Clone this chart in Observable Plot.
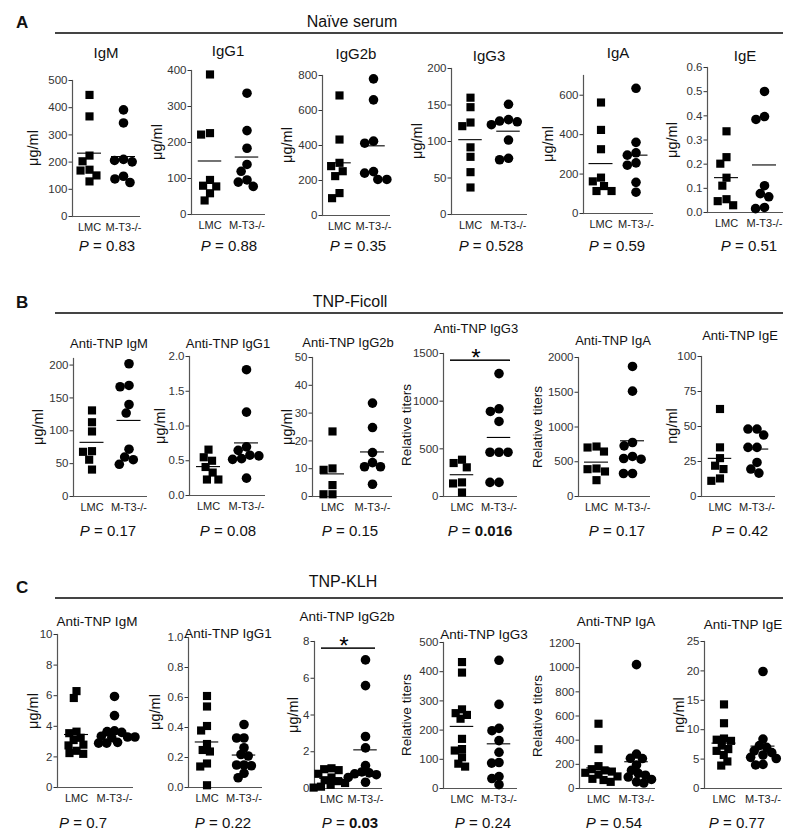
<!DOCTYPE html>
<html>
<head>
<meta charset="utf-8">
<script src="https://cdn.jsdelivr.net/npm/d3@7"></script>
<script src="https://cdn.jsdelivr.net/npm/@observablehq/plot@0.6"></script>
<style>
  html, body { margin: 0; padding: 0; background: #fff; }
  #root { position: relative; width: 800px; height: 840px; background: #fff;
          font-family: "Liberation Sans", Arial, Helvetica, sans-serif; color: #111; overflow: hidden; }
  #root svg { position: absolute; overflow: visible; }
</style>
</head>
<body>
<div id="root"></div>
<script>
// ---------------- DATA ----------------
const groups = ["LMC", "M-T3-/-"];
const sectionLetters = ["A", "B", "C"];
const sectionTitles = ["Naïve serum", "TNP-Ficoll", "TNP-KLH"];

const naiveTitles = ["IgM", "IgG1", "IgG2b", "IgG3", "IgA", "IgE"];
const tnpTitles = ["Anti-TNP IgM", "Anti-TNP IgG1", "Anti-TNP IgG2b", "Anti-TNP IgG3", "Anti-TNP IgA", "Anti-TNP IgE"];
const naiveUnits = ["μg/ml", "μg/ml", "μg/ml", "μg/ml", "μg/ml", "μg/ml"];
const tnpUnits = ["μg/ml", "μg/ml", "μg/ml", "Relative titers", "Relative titers", "ng/ml"];

const naiveP = ["0.83", "0.88", "0.35", "0.528", "0.59", "0.51"];
const ficollP = ["0.17", "0.08", "0.15", "0.016", "0.17", "0.42"];
const klhP = ["0.7", "0.22", "0.03", "0.24", "0.54", "0.77"];

// y-axis domains and tick labels
const naiveMax = [500, 400, 800, 200, 700, 0.6];
const naiveTicks = [[0,100,200,300,400,500],[0,100,200,300,400],[0,200,400,600,800],[0,50,100,150,200],[0,200,400,600],[0,0.1,0.2,0.3,0.4,0.5,0.6]];
const ficollMax = [210, 2, 50, 1500, 2000, 100];
const ficollTicks = [[0,50,100,150,200],[0,0.5,1,1.5,2],[0,10,20,30,40,50],[0,500,1000,1500],[0,500,1000,1500,2000],[0,25,50,75,100]];
const klhMax = [10, 1, 8, 500, 1200, 25];
const klhTicks = [[0,2,4,6,8,10],[0,0.2,0.4,0.6,0.8,1],[0,2,4,6,8],[0,100,200,300,400,500],[0,200,400,600,800,1000,1200],[0,5,10,15,20,25]];
const naiveDecimals = [0,0,0,0,0,1];
const ficollDecimals = [0,1,0,0,0,0];
const klhDecimals = [0,1,0,0,0,0];

// significance bars (value level of the bar), null = none
const ficollSig = [null, null, null, 1430, null, null];
const klhSig = [null, null, 7.64, null, null, null];

// Naïve serum
const naiveIgM_LMC  = [447, 368, 224, 203, 172, 169, 151, 129];
const naiveIgM_KO   = [392, 344, 210, 206, 201, 148, 138, 125];
const naiveIgG1_LMC = [389, 226, 222, 96, 80, 78, 59, 39];
const naiveIgG1_KO  = [337, 233, 184, 139, 120, 96, 90, 78];
const naiveIgG2b_LMC= [686, 434, 301, 282, 253, 225, 128, 99];
const naiveIgG2b_KO = [781, 661, 425, 413, 251, 242, 206, 206];
const naiveIgG3_LMC = [160, 147, 126, 121, 92, 79, 58, 37];
const naiveIgG3_KO  = [151, 130, 128, 127, 123, 102, 77, 75];
const naiveIgA_LMC  = [563, 424, 326, 182, 163, 139, 114, 114];
const naiveIgA_KO   = [635, 361, 308, 296, 257, 245, 158, 108];
const naiveIgE_LMC  = [0.336, 0.229, 0.202, 0.144, 0.111, 0.055, 0.047, 0.030];
const naiveIgE_KO   = [0.501, 0.397, 0.385, 0.111, 0.078, 0.065, 0.021, 0.016];

// TNP-Ficoll
const ficollIgM_LMC  = [131, 113, 99, 69, 68, 56, 41];
const ficollIgM_KO   = [202, 169, 167, 140, 127, 72, 60, 56, 49];
const ficollIgG1_LMC = [0.66, 0.55, 0.50, 0.41, 0.33, 0.23, 0.23];
const ficollIgG1_KO  = [1.81, 1.20, 0.70, 0.65, 0.58, 0.57, 0.53, 0.52, 0.25];
const ficollIgG2b_LMC= [23.4, 10.1, 9.6, 4.1, 0.8, 0.8];
const ficollIgG2b_KO = [33.6, 24.8, 15.8, 12.2, 10.7, 10.7, 4.4];
const ficollIgG3_LMC = [386, 351, 306, 148, 137, 42];
const ficollIgG3_KO  = [1289, 920, 892, 787, 464, 464, 464, 148, 148];
const ficollIgA_LMC  = [719, 705, 647, 403, 393, 360, 235];
const ficollIgA_KO   = [1871, 1516, 777, 729, 576, 547, 537, 331, 331];
const ficollIgE_LMC  = [62.5, 35.1, 27.4, 22.0, 19.6, 12.9, 11.2];
const ficollIgE_KO   = [48.2, 48.2, 43.9, 35.1, 35.1, 24.3, 19.6, 16.7];

// TNP-KLH
const klhIgM_LMC  = [6.3, 5.85, 3.65, 3.55, 3.25, 3.1, 2.8, 2.75, 2.4, 2.25, 2.2];
const klhIgM_KO   = [5.95, 4.7, 3.7, 3.65, 3.6, 3.35, 3.3, 3.3, 3.25, 2.95, 2.9, 2.9];
const klhIgG1_LMC = [0.61, 0.54, 0.41, 0.38, 0.29, 0.25, 0.24, 0.16, 0.14, 0.015];
const klhIgG1_KO  = [0.42, 0.33, 0.33, 0.265, 0.22, 0.21, 0.15, 0.15, 0.145, 0.095, 0.065];
const klhIgG2b_LMC= [1.1, 1.05, 1.0, 0.8, 0.6, 0.45, 0.4, 0.3, 0.2, 0.1, 0.05];
const klhIgG2b_KO = [7.0, 5.6, 2.83, 2.21, 1.25, 0.9, 0.85, 0.8, 0.75, 0.6, 0.34];
const klhIgG3_LMC = [433, 397, 271, 258, 252, 239, 170, 135, 130, 107, 85, 75];
const klhIgG3_KO  = [439, 288, 206, 198, 164, 124, 89, 87, 41, 34, 13];
const klhIgA_LMC  = [536, 325, 185, 160, 150, 140, 130, 115, 100, 80, 70, 55];
const klhIgA_KO   = [1025, 285, 250, 248, 195, 150, 125, 110, 95, 75, 55, 45];
const klhIgE_LMC  = [14.3, 11.1, 8.5, 8.3, 8.1, 7.3, 6.7, 6.4, 5.7, 4.6, 3.9];
const klhIgE_KO   = [19.9, 8.4, 7.3, 7.0, 6.4, 6.1, 5.7, 5.3, 5.1, 4.1, 4.0];

// ---------------- LAYOUT (pixels) ----------------
const layouts = [
  { letterY: 22, titleY: 22, lineY: 33, titleX: 352, titleSize: 15, dodgeR: 4.2,
    axisX: [72, 190, 321, 450, 583, 707], xEnd: [140, 265, 390, 527, 653, 783],
    yTop: [80, 70, 75, 68, 75, 67], yBot: [216, 214, 215, 214, 213, 212],
    tX: [106, 228, 356, 489, 618, 745],
    tY: [52, 50, 53, 55, 52, 55], pX: [107, 229, 358, 491, 617, 749], pY: 245,
    labOff: [39, 33, 34, 33, 35, 35] },
  { letterY: 302, titleY: 302, lineY: 313, titleX: 350, titleSize: 13, dodgeR: 4.2,
    axisX: [73, 189, 312, 442, 578, 700], xEnd: [147, 265, 392, 517, 650, 775],
    yTop: [358, 356, 357, 353, 357, 356], yBot: [496, 495, 496, 496, 496, 496],
    tX: [109, 228, 348, 476, 613, 740],
    tY: [343, 343, 342, 328, 340, 335], pX: [108, 228, 350, 480, 617, 740], pY: 530,
    labOff: [35, 29, 25, 35, 40, 28] },
  { letterY: 587, titleY: 582, lineY: 598, titleX: 343, titleSize: 13.5, dodgeR: 3.4,
    axisX: [57, 187, 313, 442, 578, 704], xEnd: [133, 262, 382, 517, 655, 782],
    yTop: [634, 637, 641, 642, 643, 641], yBot: [787, 787, 788, 788, 788, 788],
    tX: [97, 228, 347, 484, 616, 743],
    tY: [622, 634, 617, 635, 622, 625], pX: [83, 223, 350, 483, 614, 737], pY: 822,
    labOff: [24, 32, 20, 35, 40, 25] }
];

const rows = [
  { titles: naiveTitles, units: naiveUnits, p: naiveP, max: naiveMax, ticks: naiveTicks, dec: naiveDecimals, sig: [null,null,null,null,null,null],
    lmc: [naiveIgM_LMC, naiveIgG1_LMC, naiveIgG2b_LMC, naiveIgG3_LMC, naiveIgA_LMC, naiveIgE_LMC],
    ko:  [naiveIgM_KO, naiveIgG1_KO, naiveIgG2b_KO, naiveIgG3_KO, naiveIgA_KO, naiveIgE_KO] },
  { titles: tnpTitles, units: tnpUnits, p: ficollP, max: ficollMax, ticks: ficollTicks, dec: ficollDecimals, sig: ficollSig,
    lmc: [ficollIgM_LMC, ficollIgG1_LMC, ficollIgG2b_LMC, ficollIgG3_LMC, ficollIgA_LMC, ficollIgE_LMC],
    ko:  [ficollIgM_KO, ficollIgG1_KO, ficollIgG2b_KO, ficollIgG3_KO, ficollIgA_KO, ficollIgE_KO] },
  { titles: tnpTitles, units: tnpUnits, p: klhP, max: klhMax, ticks: klhTicks, dec: klhDecimals, sig: klhSig,
    lmc: [klhIgM_LMC, klhIgG1_LMC, klhIgG2b_LMC, klhIgG3_LMC, klhIgA_LMC, klhIgE_LMC],
    ko:  [klhIgM_KO, klhIgG1_KO, klhIgG2b_KO, klhIgG3_KO, klhIgA_KO, klhIgE_KO] }
];

// ---------------- RENDER ----------------
const root = document.getElementById("root");
const FONT = "'Liberation Sans', Arial, Helvetica, sans-serif";
const axisColor = "#555";

function addText(html, x, y, o = {}) {
  const d = document.createElement("div");
  d.innerHTML = html;
  const tx = o.anchor === "start" ? "0" : "-50%";
  Object.assign(d.style, {
    position: "absolute", left: x + "px", top: y + "px",
    fontSize: (o.size || 14) + "px", fontWeight: o.weight || "normal",
    whiteSpace: "nowrap", lineHeight: "1", color: o.color || "#111",
    transform: `translate(${tx},-50%)` + (o.rotate ? ` rotate(${o.rotate}deg)` : "")
  });
  root.appendChild(d);
}

function addLine(x1, x2, y) {
  const d = document.createElement("div");
  Object.assign(d.style, { position: "absolute", left: x1 + "px", top: (y - 0.75) + "px",
    width: (x2 - x1) + "px", height: "1.5px", background: "#444" });
  root.appendChild(d);
}

function panel(lmc, ko, max, ticks, decimals, sig, L, i) {
  const mL = 44, mR = 6, mT = 16, mB = 26;
  const axisX = L.axisX[i], xEnd = L.xEnd[i], yTop = L.yTop[i], yBot = L.yBot[i];
  const fw = xEnd - axisX, fh = yBot - yTop;
  const dL = lmc.map(v => ({ group: groups[0], value: v }));
  const dK = ko.map(v => ({ group: groups[1], value: v }));
  const all = dL.concat(dK);
  const inset = Math.max(2, (fw / 2 - 24) / 2);
  const fmt = decimals ? d3.format("." + decimals + "f") : d3.format("d");
  const marks = [
    Plot.ruleY([0], { stroke: axisColor, strokeWidth: 1.2 }),
    Plot.frame({ anchor: "left", facetAnchor: "left", stroke: axisColor, strokeWidth: 1.2 }),
    Plot.axisY({ ticks, tickFormat: fmt, tickSize: 3.5, tickPadding: 1.5, fontSize: 11.5, color: "#333", label: null }),
    Plot.axisFx({ anchor: "bottom", tickSize: 0, tickPadding: 7, fontSize: 11, color: "#222", label: null }),
    Plot.dot(dL, Plot.dodgeX({ anchor: "middle", r: L.dodgeR, padding: 0.6 },
      { fx: "group", y: "value", r: 4.6, symbol: "square", fill: "#000" })),
    Plot.dot(dK, Plot.dodgeX({ anchor: "middle", r: L.dodgeR, padding: 0.6 },
      { fx: "group", y: "value", r: 4.8, symbol: "circle", fill: "#000" })),
    Plot.tickY(all, Plot.groupZ({ y: "mean" }, { fx: "group", y: "value", insetLeft: inset, insetRight: inset, stroke: "#000", strokeWidth: 1.1 }))
  ];
  if (sig != null) {
    marks.push(Plot.ruleY([{ group: groups[0], y: sig }], { fx: "group", y: "y", insetLeft: 7, stroke: "#000", strokeWidth: 1.5 }));
    marks.push(Plot.ruleY([{ group: groups[1], y: sig }], { fx: "group", y: "y", insetRight: 7, stroke: "#000", strokeWidth: 1.5 }));
    marks.push(Plot.text([{ group: groups[0], y: sig, s: "*" }], { fx: "group", y: "y", text: "s", frameAnchor: "right", fontSize: 24, dy: -2, fill: "#000" }));
  }
  const svg = Plot.plot({
    width: fw + mL + mR, height: fh + mT + mB,
    marginLeft: mL, marginRight: mR, marginTop: mT, marginBottom: mB,
    fx: { domain: groups, padding: 0, label: null },
    y: { domain: [0, max], label: null },
    style: { background: "transparent", fontFamily: FONT, overflow: "visible" },
    marks
  });
  svg.style.left = (axisX - mL) + "px";
  svg.style.top = (yTop - mT) + "px";
  root.appendChild(svg);
}

rows.forEach((R, r) => {
  const L = layouts[r];
  addText(sectionLetters[r], 16, L.letterY, { size: 17, weight: "bold", anchor: "start" });
  addText(sectionTitles[r], L.titleX, L.titleY, { size: 16 });
  addLine(55, 783, L.lineY);
  for (let i = 0; i < 6; i++) {
    panel(R.lmc[i], R.ko[i], R.max[i], R.ticks[i], R.dec[i], R.sig[i], L, i);
    addText(R.titles[i], L.tX[i], L.tY[i], { size: L.titleSize });
    const unit = R.units[i];
    addText(unit, L.axisX[i] - L.labOff[i], (L.yTop[i] + L.yBot[i]) / 2,
      { size: unit === "Relative titers" ? 13.5 : 14.5, rotate: -90 });
    const p = R.p[i];
    const bold = parseFloat(p) < 0.05;
    addText(`<i>P</i> = ${bold ? "<b>" + p + "</b>" : p}`, L.pX[i], L.pY, { size: 15 });
  }
});
</script>
</body>
</html>
